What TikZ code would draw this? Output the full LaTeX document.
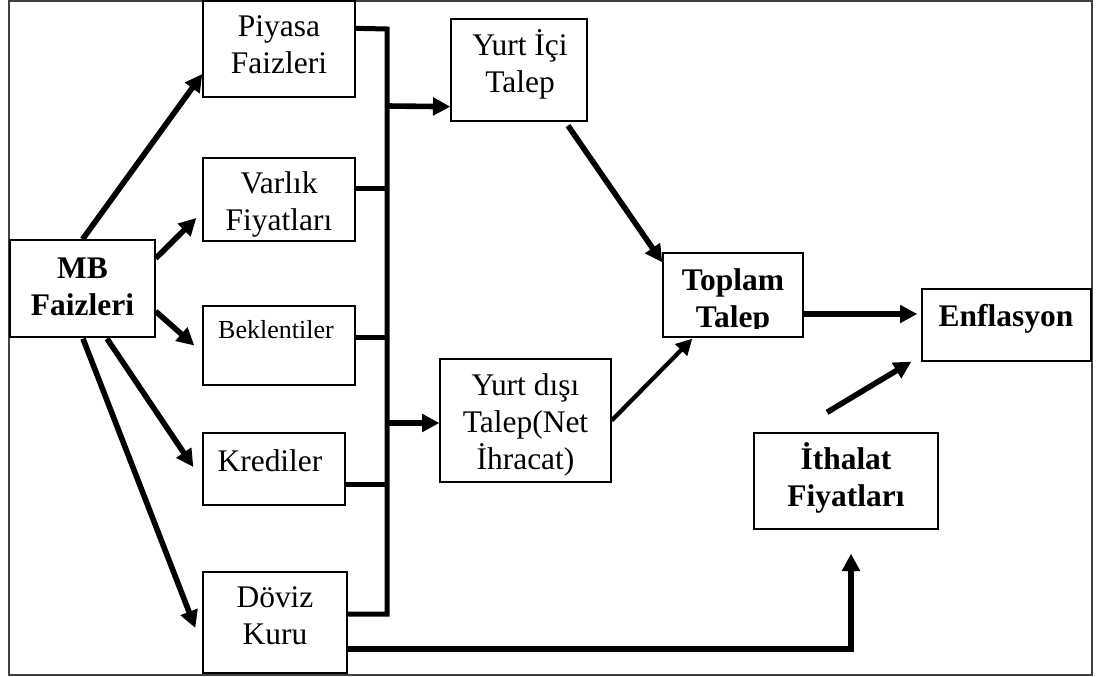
\documentclass[tikz,border=0pt]{standalone}
\usepackage{fontspec}
\setmainfont{Liberation Serif}
\usetikzlibrary{arrows.meta,calc,fit}
\newcommand{\firstline}{\rule{0pt}{20pt}}
\begin{document}
\begin{tikzpicture}[x=0.75pt,y=-0.75pt,
  box/.style={draw,line width=1pt,inner sep=0pt},
  txt/.style={align=center,anchor=north,inner sep=0pt,font=\fontsize{23.6}{27.75}\selectfont},
  btxt/.style={txt,font=\fontsize{23.6}{27.75}\selectfont\bfseries},
  arr/.style={line width=4.2pt,-{Triangle[length=13pt,width=13pt]}},
  thinarr/.style={line width=3.2pt,-{Triangle[length=12pt,width=12pt]}},
  bus/.style={line width=3.75pt,line join=miter,line cap=butt},
  frame/.style={draw=black!75,line width=1.2pt}]
\useasboundingbox (0,0) rectangle (1096,677);
\draw[frame] (9,0.8) rectangle (1092,675);

% boxes
\node[box,fit={(10,240) (155,337)}] (mb) {};
\node[box,fit={(203,1) (355,97)}] (piy) {};
\node[box,fit={(203,158) (355,241)}] (var) {};
\node[box,fit={(203,306) (355,385)}] (bek) {};
\node[box,fit={(203,433) (345,505)}] (kre) {};
\node[box,fit={(203,572) (347,673)}] (dov) {};
\node[box,fit={(451,19) (587,121)}] (yic) {};
\node[box,fit={(440,359) (611,482)}] (ydi) {};
\node[box,fit={(663,253) (803,337)}] (top) {};
\node[box,fit={(922,289) (1091,361)}] (enf) {};
\node[box,fit={(754,433) (938,529)}] (ith) {};

% texts
\node[btxt] (tmb) at (82.5,251.3) {\firstline MB\\Faizleri};
\node[txt] (tpiy) at (279,9.3) {\firstline Piyasa\\Faizleri};
\node[txt] (tvar) at (279,166.3) {\firstline Varlık\\Fiyatları};
\node[txt,anchor=base,font=\fontsize{19.5}{23}\selectfont] (tbek) at (276,339) {Beklentiler};
\node[txt,anchor=base] (tkre) at (270,471) {Krediler};
\node[txt] (tdov) at (275,580.3) {\firstline Döviz\\Kuru};
\node[txt] (tyic) at (520,28.3) {\firstline Yurt İçi\\Talep};
\node[txt] (tydi) at (525.5,368.3) {\firstline Yurt dışı\\Talep(Net\\İhracat)};
\begin{scope}
\clip (663,253) rectangle (803,328.5);
\node[btxt] (ttop) at (733,263.3) {\firstline Toplam\\Talep};
\end{scope}
\node[btxt,anchor=base] (tenf) at (1006,327) {Enflasyon};
\node[btxt] (tith) at (846,442.3) {\firstline İthalat\\Fiyatları};

% arrows from MB
\draw[arr] (mb.north) -- ($(piy.west)+(0,25)$);
\draw[arr] ($(mb.north east)+(0,19)$) -- ($(var.west)+(-6,18.5)$);
\draw[arr] ($(mb.north east)+(0,72)$) -- ($(bek.west)+(-8,0)$);
\draw[arr] ($(mb.south)+(24.5,1)$) -- ($(kre.west)+(-9,-2)$);
\draw[arr] ($(mb.south)+(0.5,1)$) -- ($(dov.west)+(-7,5.5)$);

% bus
\coordinate (bustop) at (387,29);
\coordinate (busbot) at (387,614);
\draw[bus] ($(piy.north east)+(0,28)$) -- (bustop) -- (busbot) -- ($(dov.east)+(0,-8.5)$);
\draw[bus] ($(var.east)+(0,-10.5)$) -- (bustop |- {$(var.east)+(0,-10.5)$});
\draw[bus] ($(bek.east)+(0,-7.5)$) -- (bustop |- {$(bek.east)+(0,-7.5)$});
\draw[bus] ($(kre.east)+(0,15)$) -- (bustop |- {$(kre.east)+(0,15)$});
\coordinate (busA) at (387,106);
\coordinate (busB) at (387,423);
\draw[arr] (busA) -- ($(yic.south west)+(0,-15)$);
\draw[arr] (busB) -- ($(ydi.west)+(0,2.5)$);

% demand arrows
\draw[arr] ($(yic.south)+(49,4)$) -- ($(top.north west)+(0,10)$);
\draw[thinarr] (ydi.east) -- ($(top.south west)+(30,1)$);
\draw[arr] ($(top.east)+(0,19)$) -- ($(enf.west)+(-4,-11)$);
\draw[arr] ($(ith.north)+(-19,-20)$) -- ($(enf.south west)+(-10,0)$);

% exchange rate to import prices
\coordinate (corner) at (851,649);
\draw[arr,line join=miter] ($(dov.east)+(0,26.5)$) -- (corner) -- ($(ith.south)+(5,24)$);
\end{tikzpicture}
\end{document}
